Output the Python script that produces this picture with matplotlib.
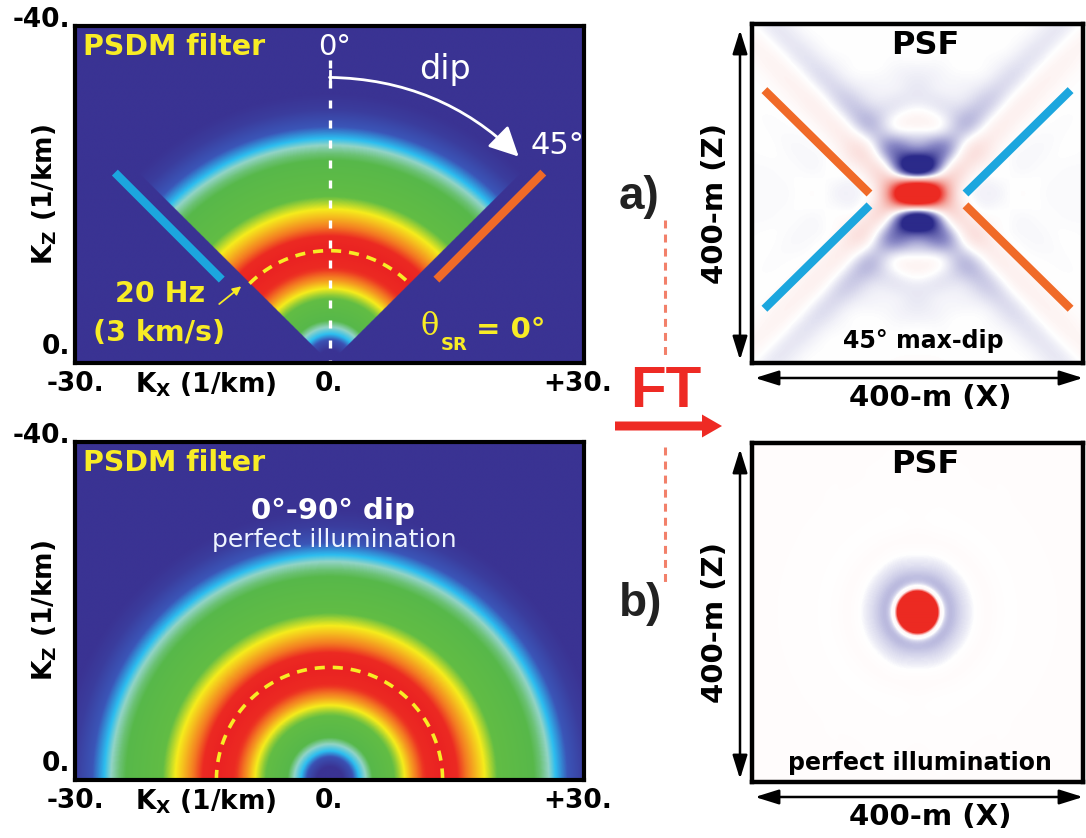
import numpy as np
import matplotlib
matplotlib.use("Agg")
import matplotlib.pyplot as plt
from matplotlib.colors import LinearSegmentedColormap, TwoSlopeNorm
from matplotlib.patches import FancyArrow

# ------------------------------------------------------------------ data
# radial amplitude of the PSDM filter spectrum (|K| in 1/km -> relative level)
ring_radius = [0, 1.5, 2.6, 3.4, 4.2, 5.0, 6.5, 8.0, 8.8, 9.8, 11.0, 13.3,
               15.0, 16.0, 17.2, 18.2, 20.0, 23.0, 24.8, 25.8, 26.6, 28.0, 30.0, 32.0]
ring_amp = [0.0, 0.0, 0.08, 0.20, 0.27, 0.36, 0.45, 0.55, 0.62, 0.75, 0.88, 1.0,
            0.90, 0.80, 0.70, 0.62, 0.50, 0.40, 0.33, 0.27, 0.20, 0.10, 0.03, 0.0]
kx_limits = [-30, 30]
kz_limits = [0, -40]
kx_tick_labels = ["-30.", "0.", "+30."]
kz_tick_labels = ["-40.", "0."]
max_dip_a = 45          # degrees, panel a
max_dip_b = 90          # degrees, panel b
freq_hz = 20
vel_kms = 3
psf_half_m = 200        # PSF window +-200 m (400 m)

# ------------------------------------------------------------------ setup
W, H, DPI = 1086, 838, 100
plt.rcParams['font.family'] = ['DejaVu Sans']
plt.rcParams['mathtext.fontset'] = 'dejavusans'
fig = plt.figure(figsize=(W / DPI, H / DPI), dpi=DPI)
fig.patch.set_facecolor('white')

NAVY = '#3a3393'
YEL = '#f8ec25'
RED = '#ee2a24'
BLUEBAR = '#1ca6de'
ORANGEBAR = '#f06a28'

filt_cmap = LinearSegmentedColormap.from_list('filt', [
    (0.00, NAVY), (0.10, '#3b56b8'), (0.20, '#2cbef0'), (0.27, '#92d4c6'),
    (0.36, '#57b84a'), (0.52, '#62bd44'), (0.62, '#f6ec1c'), (0.78, '#f48222'),
    (0.90, '#ec2a22'), (1.00, '#ea2222')])
psf_cmap_a = LinearSegmentedColormap.from_list('psfa', [
    (0.0, '#2b2a8a'), (0.25, '#8a89c6'), (0.5, '#ffffff'), (0.75, '#f4a49c'),
    (1.0, '#ec2a22')])
psf_cmap_b = LinearSegmentedColormap.from_list('psfb', [
    (0.0, '#2b2a8a'), (0.22, '#6f6eba'), (0.40, '#d6d6ec'), (0.46, '#ffffff'),
    (0.62, '#fff6f6'), (0.85, '#ec2a22'), (1.0, '#ec2a22')])


def add_ax(l, t, r, b):
    return fig.add_axes([l / W, 1 - b / H, (r - l) / W, (b - t) / H])


def frame(ax, lw=3.0):
    ax.set_xticks([])
    ax.set_yticks([])
    for s in ax.spines.values():
        s.set_linewidth(lw)
        s.set_color('black')


# ------------------------------------------------------------------ filter images
kx = np.linspace(kx_limits[0], kx_limits[1], 900)
kz = np.linspace(kz_limits[1], kz_limits[0], 600)
KX, KZ = np.meshgrid(kx, kz)
R = np.hypot(KX, KZ)
amp = np.interp(R, ring_radius, ring_amp)
dip = np.degrees(np.arctan2(np.abs(KX), np.abs(KZ)))
amp_a = np.where(dip <= max_dip_a, amp, 0.0)
amp_b = np.where(dip <= max_dip_b, amp, 0.0)
k20 = 2.0 * freq_hz / vel_kms

panels = {}
for name, img, top, bot in [('a', amp_a, 26, 363), ('b', amp_b, 442, 780)]:
    ax = add_ax(75, top, 584, bot)
    ax.imshow(img, cmap=filt_cmap, vmin=0, vmax=1, origin='upper',
              extent=[kx_limits[0], kx_limits[1], kz_limits[0], kz_limits[1]],
              aspect='auto', interpolation='bilinear')
    ax.set_xlim(kx_limits)
    ax.set_ylim(kz_limits)
    frame(ax)
    md = max_dip_a if name == 'a' else max_dip_b
    th = np.radians(np.linspace(-md, md, 200))
    ax.plot(k20 * np.sin(th), -k20 * np.cos(th), color=YEL, lw=2.6,
            ls=(0, (2.8, 2.2)), solid_capstyle='butt')
    panels[name] = ax

# extras on panel a
axa = panels['a']
axa.plot([0, 0], [-36.0, 0], color='white', lw=2.4, ls=(0, (2.4, 3.6)))
axa.plot([-25.3, -12.7], [-22.6, -9.9], color=BLUEBAR, lw=6, solid_capstyle='butt')
axa.plot([25.2, 12.6], [-22.6, -9.9], color=ORANGEBAR, lw=6, solid_capstyle='butt')
axa.annotate('', xy=(22.3, -24.5), xytext=(0, -33.9),
             arrowprops=dict(arrowstyle='-|>,head_length=1.0,head_width=0.5',
                             color='white', lw=2.0, mutation_scale=18,
                             connectionstyle='arc3,rad=-0.2',
                             shrinkA=0, shrinkB=0))
axa.plot([0, 0], [-34.7, -33.1], color='white', lw=2.0)
axa.annotate('', xy=(-10.4, -9.1), xytext=(-13.0, -7.0),
             arrowprops=dict(arrowstyle='-|>,head_length=0.5,head_width=0.25',
                             color=YEL, lw=1.3, mutation_scale=10,
                             shrinkA=0, shrinkB=0))

# ------------------------------------------------------------------ PSF (FT of filter)
kk = np.linspace(0, 32, 641)
Ak = np.interp(kk, ring_radius, ring_amp)
nn = np.linspace(-0.6, 0.6, 6001)
wav = (Ak[:, None] * np.cos(2 * np.pi * kk[:, None] * nn[None, :])).sum(0)
hk = psf_half_m / 1000.0
xs = np.linspace(-hk, hk, 331)
X, Z = np.meshgrid(xs, xs)


def psf(maxdip):
    acc = np.zeros_like(X)
    for t in np.radians(np.arange(-maxdip, maxdip + 0.01, 0.5)):
        acc += np.interp(X * np.sin(t) + Z * np.cos(t), nn, wav)
    return acc / acc.max()


psf_a = psf(max_dip_a)
psf_b = psf(max_dip_b)

axp = {}
for name, img, top, bot, cmap, norm in [
        ('a', psf_a, 24, 363, psf_cmap_a, TwoSlopeNorm(vmin=-0.28, vcenter=0, vmax=0.5)),
        ('b', psf_b, 443, 782, psf_cmap_b, TwoSlopeNorm(vmin=-0.26, vcenter=0, vmax=0.2))]:
    ax = add_ax(752, top, 1083, bot)
    ax.imshow(img, cmap=cmap, norm=norm, origin='lower',
              extent=[-psf_half_m, psf_half_m, -psf_half_m, psf_half_m],
              aspect='auto', interpolation='bilinear')
    ax.set_xlim(-psf_half_m, psf_half_m)
    ax.set_ylim(-psf_half_m, psf_half_m)
    frame(ax, 3.2)
    axp[name] = ax

ap = axp['a']
for (x0, z0, x1, z1, c) in [(-185, 122, -58, 0, ORANGEBAR), (-58, -14, -185, -136, BLUEBAR),
                            (185, 122, 58, 0, BLUEBAR), (58, -14, 185, -136, ORANGEBAR)]:
    ap.plot([x0, x1], [z0, z1], color=c, lw=6, solid_capstyle='butt')

# ------------------------------------------------------------------ overlay (pixel coords)
ov = fig.add_axes([0, 0, 1, 1])
ov.set_xlim(0, W)
ov.set_ylim(H, 0)
ov.axis('off')
ov.patch.set_alpha(0)


def T(x, y, s, size=20, color='black', weight='bold', ha='center', va='center', **kw):
    ov.text(x, y, s, fontsize=size, color=color, fontweight=weight, ha=ha, va=va, **kw)


for top, bot in [(26, 363), (442, 780)]:
    T(70, top - 6, kz_tick_labels[0], size=19, ha='right')
    T(70, bot - 16, kz_tick_labels[1], size=19, ha='right')
    for xpos, lab in zip([75, 329, 578], kx_tick_labels):
        T(xpos, bot + 21, lab, size=19)
    T(135, bot + 22, r'K$_\mathbf{X}$ (1/km)', size=19, ha='left')
    T(45, (top + bot) / 2, r'K$_\mathbf{Z}$ (1/km)', size=19, rotation=90)
    T(83, top + 21, 'PSDM filter', size=20.5, color=YEL, ha='left')

# panel a annotations
T(318, 47, '0°', size=21, color='white', weight='normal', ha='left')
T(445, 70, 'dip', size=24, color='white', weight='normal')
T(557, 145, '45°', size=22, color='white', weight='normal')
T(160, 294, '20 Hz', size=20.5, color=YEL)
T(159, 333, '(3 km/s)', size=20.5, color=YEL)
T(421, 326, 'θ', size=22, color=YEL, weight='normal', ha='left', family='DejaVu Serif')
T(441, 345, 'SR', size=13, color=YEL, ha='left')
T(476, 330, '= 0°', size=21, color=YEL, ha='left')

# panel b annotations
T(333, 511, '0°-90° dip', size=21, color='white')
T(334, 540, 'perfect illumination', size=18, color='#eef4ff', weight='normal')

# middle: labels, FT arrow, dashed guides
T(639, 197, 'a)', size=33, color='#222222', family='Liberation Sans')
T(641, 604, 'b)', size=33, color='#222222', family='Liberation Sans')
T(666, 392, 'FT', size=42, color=RED, family='Liberation Sans')
ov.add_patch(FancyArrow(615, 426, 107, 0, width=9, head_width=23, head_length=20,
                        length_includes_head=True, color=RED, lw=0))
for y0, y1 in [(220, 360), (447, 583)]:
    ov.plot([665, 665], [y0, y1], color='#f2806a', lw=2.2, ls=(0, (2.6, 2.0)))

# PSF panel labels & dimension arrows
for top, bot in [(24, 363), (443, 782)]:
    T(925, top + 21, 'PSF', size=23)
    ov.annotate('', xy=(740, top + 6), xytext=(740, bot - 3),
                arrowprops=dict(arrowstyle='<|-|>,head_length=0.8,head_width=0.25',
                                lw=1.8, color='black', mutation_scale=18,
                                shrinkA=0, shrinkB=0))
    ov.annotate('', xy=(755, bot + 15), xytext=(1083, bot + 15),
                arrowprops=dict(arrowstyle='<|-|>,head_length=0.8,head_width=0.25',
                                lw=1.8, color='black', mutation_scale=18,
                                shrinkA=0, shrinkB=0))
    T(930, bot + 35, '400-m (X)', size=21)
    T(715, (top + bot) / 2 + 10, '400-m (Z)', size=21, rotation=90)

T(923, 341, '45° max-dip', size=17)
T(920, 763, 'perfect illumination', size=17)

fig.savefig('out.png', dpi=DPI, facecolor='white')
